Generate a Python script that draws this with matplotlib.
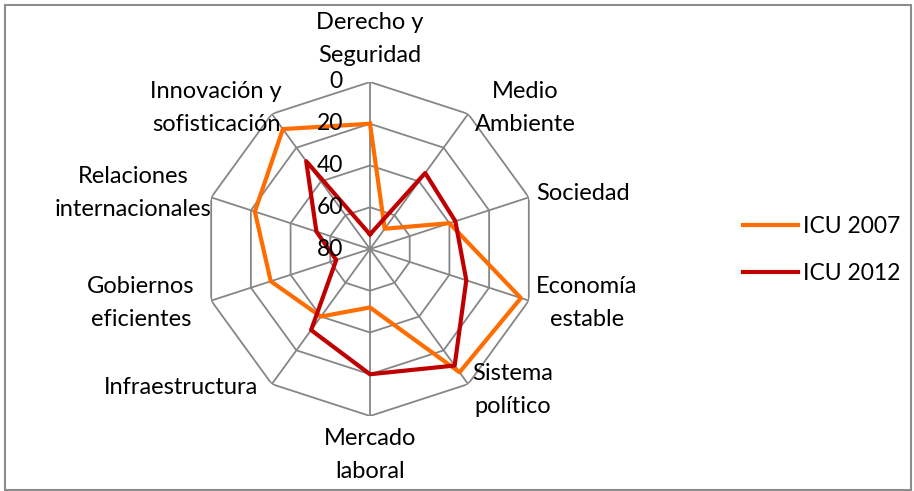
import numpy as np
import matplotlib.pyplot as plt
from matplotlib.transforms import offset_copy

plt.rcParams['font.family'] = ['Lato', 'DejaVu Sans']

categorias = ["Derecho y\nSeguridad", "Medio\nAmbiente", "Sociedad", "Economía\nestable",
              "Sistema\npolítico", "Mercado\nlaboral", "Infraestructura",
              "Gobiernos\neficientes", "Relaciones\ninternacionales", "Innovación y\nsofisticación"]
icu_2007 = [20, 68, 40, 4, 7, 52, 40, 30, 22, 9]
icu_2012 = [73, 35, 37, 31.5, 11, 20, 32, 63, 53, 28]
escala = [0, 20, 40, 60, 80]

# posiciones de las etiquetas (px en la imagen 914x491)
pos_etiquetas = [(370, 39), (525, 108), (583, 193), (587, 303), (513, 390),
                 (370, 455), (181, 388), (141, 303), (133, 193), (216, 108)]

W, H = 914, 491
fig = plt.figure(figsize=(W / 100, H / 100), dpi=100)
cx, cy, R = 370, 249, 167
ax = fig.add_axes([(cx - R) / W, (H - cy - R) / H, 2 * R / W, 2 * R / H], polar=True)
ax.set_theta_offset(np.pi / 2)
ax.set_theta_direction(-1)
ax.set_ylim(80, 0)
ax.grid(False)
ax.spines['polar'].set_visible(False)
ax.set_xticks([])
ax.set_yticks([])
ax.patch.set_visible(False)

n = len(categorias)
ang = np.linspace(0, 2 * np.pi, n, endpoint=False)
ang_c = np.append(ang, ang[0])

gris = '#868686'
for v in escala[:-1]:
    ax.plot(ang_c, [v] * (n + 1), color=gris, lw=1.3, zorder=1)
for a in ang:
    ax.plot([a, a], [80, 0], color=gris, lw=1.3, zorder=1)

ax.plot(ang_c, icu_2007 + icu_2007[:1], color='#FF6C00', lw=3, label='ICU 2007', zorder=3)
ax.plot(ang_c, icu_2012 + icu_2012[:1], color='#C00000', lw=3, label='ICU 2012', zorder=3)

tr = offset_copy(ax.transData, fig=fig, x=-27, y=0, units='dots')
for v in escala:
    ax.text(0, v, str(v), transform=tr, ha='right', va='center', fontsize=16.5, zorder=4)

for txt, (x, y) in zip(categorias, pos_etiquetas):
    fig.text(x / W, 1 - y / H, txt, ha='center', va='center', fontsize=17,
             linespacing=1.68, multialignment='center')

fig.legend(loc='center left', bbox_to_anchor=(743 / W, 1 - 250 / H), frameon=False,
           fontsize=16.5, handlelength=2.4, labelspacing=1.1, handletextpad=0.2,
           borderpad=0, borderaxespad=0)

fig.patches.append(plt.Rectangle((5 / W, 1 / H), 906 / W, 485 / H, transform=fig.transFigure,
                                 fill=False, edgecolor='#8c8c8c', lw=1.5))

fig.savefig('out.png', dpi=100)
